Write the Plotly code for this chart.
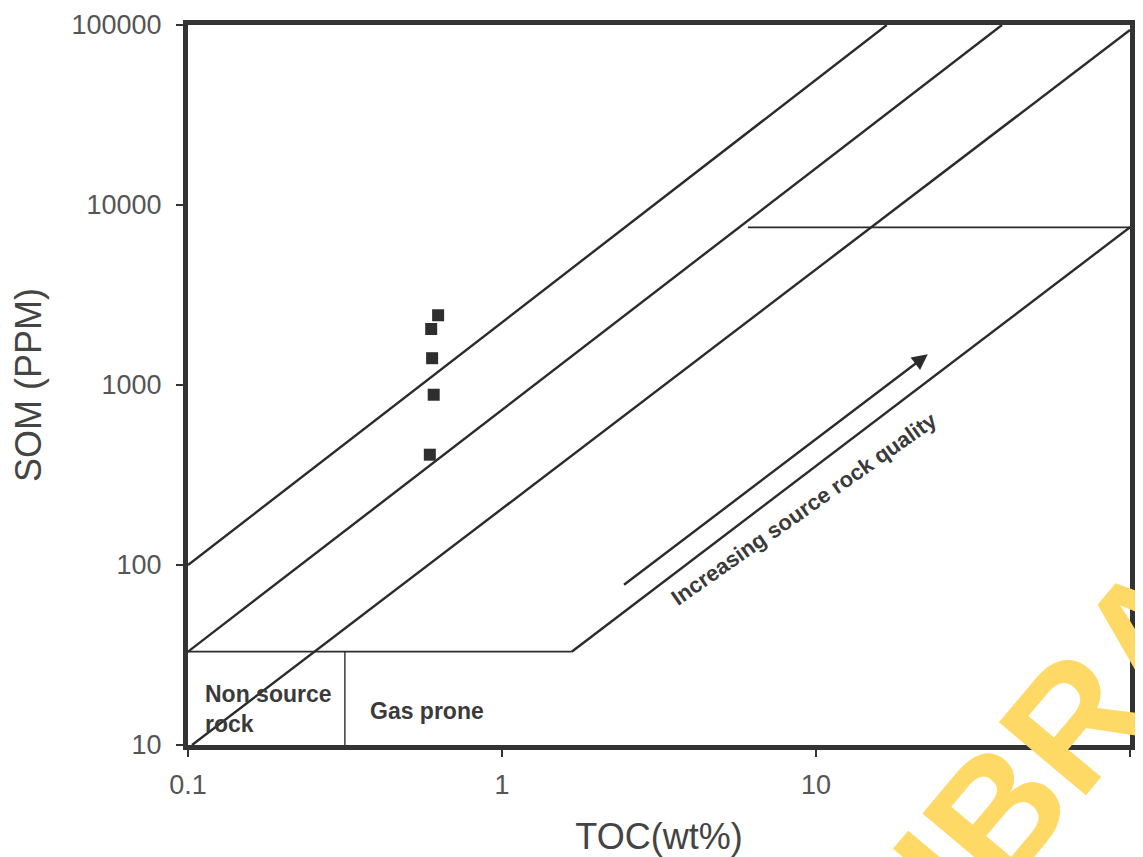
import numpy as np
import plotly.graph_objects as go

# ---- data ----
toc_samples = [0.626, 0.595, 0.599, 0.606, 0.589]
som_samples = [2440, 2047, 1409, 883, 410]

# boundary lines (TOC, SOM) endpoints
line1_toc = [0.1, 16.8]
line1_som = [100, 100000]
line2_toc = [0.1, 39.1]
line2_som = [33, 100000]
line3_toc = [0.103, 100]
line3_som = [10, 93800]
line4_toc = [1.667, 100]
line4_som = [33, 7520]
hline_low_toc = [0.1, 1.667]
hline_low_som = [33, 33]
vline_toc = [0.316, 0.316]
vline_som = [10, 33]
hline_high_toc = [6.07, 100]
hline_high_som = [7520, 7520]

x_tickvals = [0.1, 1, 10, 100]
x_ticktext = ["0.1", "1", "10", "100"]
y_tickvals = [10, 100, 1000, 10000, 100000]
y_ticktext = ["10", "100", "1000", "10000", "100000"]

arrow_start = (2.42, 76.6)
arrow_end = (22.7, 1480)

fig = go.Figure()

line_color = "#2b2b2b"
for xs, ys, w in [
    (line1_toc, line1_som, 2.4),
    (line2_toc, line2_som, 2.4),
    (line3_toc, line3_som, 2.4),
    (line4_toc, line4_som, 2.4),
    (hline_low_toc, hline_low_som, 1.8),
    (vline_toc, vline_som, 1.4),
    (hline_high_toc, hline_high_som, 1.8),
]:
    fig.add_trace(go.Scatter(x=xs, y=ys, mode="lines",
                             line=dict(color=line_color, width=w),
                             showlegend=False, hoverinfo="skip"))

fig.add_trace(go.Scatter(x=toc_samples, y=som_samples, mode="markers",
                         marker=dict(symbol="square", size=12, color="#2e2e2e"),
                         showlegend=False))

font_fam = "Liberation Sans, Arial, sans-serif"
axis_common = dict(
    type="log", showline=True, mirror=True, linewidth=5, linecolor="#333333",
    ticks="outside", ticklen=7, tickwidth=2, tickcolor="#333333",
    showgrid=False, zeroline=False, automargin=False,
    tickfont=dict(family=font_fam, size=27, color="#555555"),
)

fig.update_xaxes(range=[-1, 2], tickvals=x_tickvals, ticktext=x_ticktext,
                 ticklabelstandoff=5,
                 title=dict(text="TOC(wt%)", font=dict(family=font_fam, size=36, color="#444444"),
                            standoff=26),
                 **axis_common)
fig.update_yaxes(range=[1, 5], tickvals=y_tickvals, ticktext=y_ticktext,
                 ticklabelstandoff=9,
                 title=dict(text="SOM (PPM)", font=dict(family=font_fam, size=36, color="#444444"),
                            standoff=20),
                 **axis_common)

lx = np.log10
anns = [
    dict(x=lx(0.112), y=lx(19.3), text="<b>Non source</b>", showarrow=False,
         xanchor="left", yanchor="middle", font=dict(family=font_fam, size=23, color="#3a3a3a")),
    dict(x=lx(0.112), y=lx(13.0), text="<b>rock</b>", showarrow=False,
         xanchor="left", yanchor="middle", font=dict(family=font_fam, size=23, color="#3a3a3a")),
    dict(x=lx(0.373), y=lx(15.4), text="<b>Gas prone</b>", showarrow=False,
         xanchor="left", yanchor="middle", font=dict(family=font_fam, size=23, color="#3a3a3a")),
    dict(x=lx(9.2), y=lx(205), text="<b>Increasing source rock quality</b>", showarrow=False,
         textangle=-35, xanchor="center", yanchor="middle",
         font=dict(family=font_fam, size=22, color="#3a3a3a")),
    dict(x=lx(arrow_end[0]), y=lx(arrow_end[1]), ax=lx(arrow_start[0]), ay=lx(arrow_start[1]),
         axref="x", ayref="y", xref="x", yref="y", text="", showarrow=True,
         arrowhead=2, arrowsize=1.3, arrowwidth=2.4, arrowcolor="#2b2b2b"),
    dict(x=0.966, y=0.074, xref="paper", yref="paper", text="<b>LIBRARY</b>", showarrow=False,
         textangle=-50, xanchor="center", yanchor="middle",
         font=dict(family=font_fam, size=165, color="#FFD966")),
]
fig.update_layout(annotations=anns)

# the page body adds an 8px offset, so the figure is sized to fit the window
fig.update_layout(
    width=1135, height=849,
    margin=dict(l=180, r=13, t=17, b=112),
    paper_bgcolor="white", plot_bgcolor="white",
)

fig.write_html("out.html")
